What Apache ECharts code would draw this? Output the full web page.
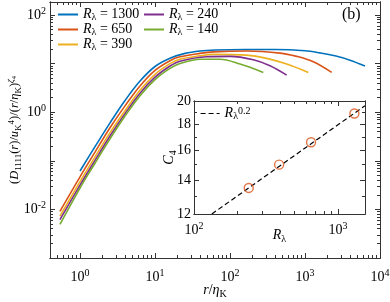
<!DOCTYPE html>
<html><head><meta charset="utf-8">
<script src="https://cdn.jsdelivr.net/npm/echarts@6/dist/echarts.min.js"></script>
<style>html,body{margin:0;padding:0;background:#fff}#c{width:390px;height:302px}</style>
</head><body><div id="c"></div>
<script>
// ---------------- data ----------------
const seriesNames = ['1300', '650', '390', '240', '140'];
const seriesColors = ['#0072BD', '#D95319', '#EDB120', '#7E2F8E', '#77AC30'];

const r1300 = [1, 1.585, 2.512, 3.981, 6.31, 10, 15.85, 25.1, 39.8, 63.1, 158, 398, 1000, 1585, 2512, 3981, 6310];
const d1300 = [0.0617, 0.195, 0.603, 1.738, 4.365, 8.71, 12.88, 16.22, 18.2, 19.05, 19.5, 19.5, 18.41, 16.6, 14.45, 11.75, 8.91];

const r650 = [0.54, 1, 1.585, 2.512, 3.981, 6.31, 10, 15.85, 21.5, 39.8, 59.8, 167, 465, 774, 1291, 2270];
const d650 = [0.00912, 0.0468, 0.151, 0.479, 1.349, 3.467, 7.244, 11.48, 13.8, 16.22, 17.38, 18.11, 16.44, 14.06, 10.89, 6.577];

const r390 = [0.54, 1, 1.585, 2.512, 3.981, 6.31, 10, 15.85, 21.5, 39.8, 59.8, 167, 308, 570, 1107];
const d390 = [0.00724, 0.0372, 0.120, 0.380, 1.072, 2.818, 6.026, 10.0, 12.3, 14.45, 15.49, 14.96, 12.79, 9.77, 6.577];

const r240 = [0.54, 1, 1.585, 2.512, 3.981, 6.31, 10, 15.85, 21.5, 48.9, 100, 205, 341, 570];
const d240 = [0.00617, 0.0316, 0.102, 0.324, 0.933, 2.455, 5.248, 8.913, 11.22, 13.8, 14.06, 11.97, 9.016, 5.794];

const r140 = [0.54, 1, 1.585, 2.512, 3.981, 6.31, 10, 15.85, 21.5, 39.8, 73.6, 136, 278];
const d140 = [0.0049, 0.0275, 0.0891, 0.282, 0.832, 2.188, 4.677, 7.943, 10.0, 12.3, 12.3, 9.77, 6.577];

const insetR = [240, 390, 650, 1300];
const insetC4 = [13.5, 15.0, 16.6, 18.9];
const fitR = [133, 1540];
const fitC = [12.0, 19.58];

const mainXLabelVals = [1, 10, 100, 1000, 10000];
const mainYLabelVals = [0.01, 1, 100];
const insetXLabelVals = [100, 1000];
const insetYLabelVals = [12, 14, 16, 18, 20];
const insetYMinor = [13, 15, 17, 19];

// ---------------- helpers ----------------
const FONT = 'Liberation Serif';
const AX = '#333';
function logTicks(e0, e1, lo, hi) {
  const major = [], minor = [];
  for (let e = e0; e <= e1; e++) {
    const p = Math.pow(10, e);
    if (p >= lo * 0.999 && p <= hi * 1.001) major.push(p);
    for (let k = 2; k <= 9; k++) {
      const v = k * p;
      if (v >= lo && v <= hi) minor.push(v);
    }
  }
  return { major, minor };
}
const txt = { fontFamily: FONT, fontSize: 14, lineHeight: 20, color: '#000' };
const rich = {
  t: txt,
  i: Object.assign({}, txt, { fontStyle: 'italic' }),
  b: txt,
  s: { fontFamily: FONT, fontSize: 10, lineHeight: 10, padding: [8, 0, 0, 0], color: '#000' },
  sp: { fontFamily: FONT, fontSize: 10, lineHeight: 10, padding: [0, 0, 8, 0], color: '#000' }
};
const ytxt = { fontFamily: FONT, fontSize: 12.5, lineHeight: 18, color: '#000' };
const yRich = {
  t: ytxt,
  i: Object.assign({}, ytxt, { fontStyle: 'italic' }),
  s: { fontFamily: FONT, fontSize: 9, lineHeight: 9, padding: [7, 0, 0, 0], color: '#000' },
  sp: { fontFamily: FONT, fontSize: 9, lineHeight: 9, padding: [0, 0, 7, 0], color: '#000' },
  spi: { fontFamily: FONT, fontSize: 9, lineHeight: 9, padding: [0, 0, 7, 0], color: '#000', fontStyle: 'italic' },
  ss2: { fontFamily: FONT, fontSize: 6.5, lineHeight: 6.5, padding: [0, 0, 2, 0], color: '#000' }
};
const ltxt = { fontFamily: FONT, fontSize: 14, lineHeight: 15, color: '#000' };
const legRich = {
  t: ltxt,
  i: Object.assign({}, ltxt, { fontStyle: 'italic' }),
  s: { fontFamily: FONT, fontSize: 10, lineHeight: 10, padding: [5, 0, 0, 0], color: '#000' },
  sp: { fontFamily: FONT, fontSize: 10, lineHeight: 10, padding: [0, 0, 5, 0], color: '#000' }
};
function powFmt(v) {
  const e = Math.round(Math.log10(v));
  return '{b|10}{sp|' + e + '}';
}
function linFmt(v) { return '{b|' + Math.round(v) + '}'; }

function axis(grid, pos, min, max, ticks, len, label, extra) {
  const a = {
    type: 'log', logBase: 10, gridIndex: grid, position: pos, min: min, max: max,
    nameMoveOverlap: false,
    axisLine: { show: true, onZero: false, lineStyle: { color: AX, width: 1 } },
    axisTick: { show: true, inside: true, length: len, customValues: ticks, lineStyle: { color: AX, width: 1 } },
    axisLabel: label ? Object.assign({ show: true, rich: rich }, label) : { show: false },
    splitLine: { show: false },
    minorTick: { show: false },
    minorSplitLine: { show: false }
  };
  return Object.assign(a, extra || {});
}

const mX = logTicks(-1, 4, 0.398, 10000);
const mY = logTicks(-3, 2, 0.001, 185);
const iX = logTicks(2, 3, 100, 1540);

const xAxes = [
  axis(0, 'bottom', 0.398, 10000, mX.major, 5,
    { customValues: mainXLabelVals, formatter: powFmt, margin: 9 },
    { name: '{i|r}{t|/}{i|η}{s|K}', nameLocation: 'middle', nameGap: 22, nameTextStyle: { rich: rich } }),
  axis(0, 'bottom', 0.398, 10000, mX.minor, 3, null),
  axis(0, 'top', 0.398, 10000, mX.major, 5, null),
  axis(0, 'top', 0.398, 10000, mX.minor, 3, null),
  // inset
  axis(1, 'bottom', 100, 1540, iX.major, 5,
    { customValues: insetXLabelVals, formatter: powFmt, margin: 6 },
    { name: '{i|R}{s|λ}', nameLocation: 'middle', nameGap: 11, nameTextStyle: { rich: rich }, z: 6 }),
  axis(1, 'bottom', 100, 1540, iX.minor, 3, null, { z: 6 }),
  axis(1, 'top', 100, 1540, iX.major, 5, null, { z: 6 }),
  axis(1, 'top', 100, 1540, iX.minor, 3, null, { z: 6 })
];
const yAxes = [
  axis(0, 'left', 0.001, 185, mY.major, 5,
    { customValues: mainYLabelVals, formatter: powFmt, margin: 4 },
    { name: '{t|(}{i|D}{s|1111}{t|(}{i|r}{t|)/}{i|u}{s|K}{sp|4}{t|)/(}{i|r}{t|/}{i|η}{s|K}{t|)}{spi|ζ}{ss2|4}',
      nameLocation: 'middle', nameGap: 26, nameRotate: 90, nameTextStyle: { rich: yRich } }),
  axis(0, 'left', 0.001, 185, mY.minor, 3, null),
  axis(0, 'right', 0.001, 185, mY.major, 5, null),
  axis(0, 'right', 0.001, 185, mY.minor, 3, null),
  // inset
  axis(1, 'left', 12, 20, insetYLabelVals, 5,
    { customValues: insetYLabelVals, formatter: linFmt, margin: 3 },
    { name: '{i|C}{s|4}', nameLocation: 'middle', nameGap: 15, nameRotate: 90, nameTextStyle: { rich: rich }, z: 6 }),
  axis(1, 'left', 12, 20, insetYMinor, 3, null, { z: 6 }),
  axis(1, 'right', 12, 20, insetYLabelVals, 5, null, { z: 6 }),
  axis(1, 'right', 12, 20, insetYMinor, 3, null, { z: 6 })
];

function zip(a, b) { return a.map((v, i) => [v, b[i]]); }
const rs = [r1300, r650, r390, r240, r140];
const ds = [d1300, d650, d390, d240, d140];
const series = seriesNames.map((n, k) => ({
  name: n, type: 'line', xAxisIndex: 0, yAxisIndex: 0,
  data: zip(rs[k], ds[k]), smooth: 0.35, symbol: 'none', showSymbol: false,
  lineStyle: { color: seriesColors[k], width: 1.6 }, itemStyle: { color: seriesColors[k] },
  z: 2
}));
series.push({
  name: 'fit', type: 'line', xAxisIndex: 4, yAxisIndex: 4,
  data: zip(fitR, fitC), symbol: 'none', showSymbol: false,
  lineStyle: { color: '#000', width: 1.2, type: [5, 3] }, itemStyle: { color: '#000' }, z: 7
});
series.push({
  name: 'C4', type: 'scatter', xAxisIndex: 4, yAxisIndex: 4,
  data: zip(insetR, insetC4), symbol: 'circle', symbolSize: 9,
  itemStyle: { color: 'rgba(0,0,0,0)', borderColor: '#D95319', borderWidth: 1.4 }, z: 8
});

const hiddenSym = { color: 'rgba(0,0,0,0)', borderColor: 'rgba(0,0,0,0)', borderWidth: 0, opacity: 0 };
const legFmt = n => '{i|R}{s|λ}{t| = ' + n + '}';
const option = {
  animation: false,
  backgroundColor: '#fff',
  title: { text: '(b)', left: 342, top: 7, padding: 0,
    textStyle: { fontFamily: FONT, fontSize: 16, fontWeight: 'normal', color: '#000' } },
  grid: [
    { left: 50, right: 10, top: 2, bottom: 44, outerBoundsMode: 'none' },
    { left: 194, right: 25, top: 101, bottom: 88, outerBoundsMode: 'none', show: true,
      backgroundColor: '#fff', borderWidth: 0, z: 5 }
  ],
  legend: [
    { data: ['1300', '650', '390'], orient: 'vertical', left: 57, top: 7, padding: 0,
      itemWidth: 20, itemHeight: 14, itemGap: 0, formatter: legFmt, itemStyle: hiddenSym,
      textStyle: { rich: legRich } },
    { data: ['240', '140'], orient: 'vertical', left: 143, top: 7, padding: 0,
      itemWidth: 20, itemHeight: 14, itemGap: 0, formatter: legFmt, itemStyle: hiddenSym,
      textStyle: { rich: legRich } },
    { data: ['fit'], left: 200, top: 106, padding: 0, itemWidth: 19, itemHeight: 14, z: 9,
      itemStyle: hiddenSym, lineStyle: { type: [5, 3], width: 1.2, color: '#000' },
      formatter: () => '{i|R}{s|λ}{sp|0.2}', textStyle: { rich: legRich } }
  ],
  xAxis: xAxes,
  yAxis: yAxes,
  series: series
};
const chart = echarts.init(document.getElementById('c'), null, { renderer: 'canvas' });
chart.setOption(option);
</script>
</body></html>
